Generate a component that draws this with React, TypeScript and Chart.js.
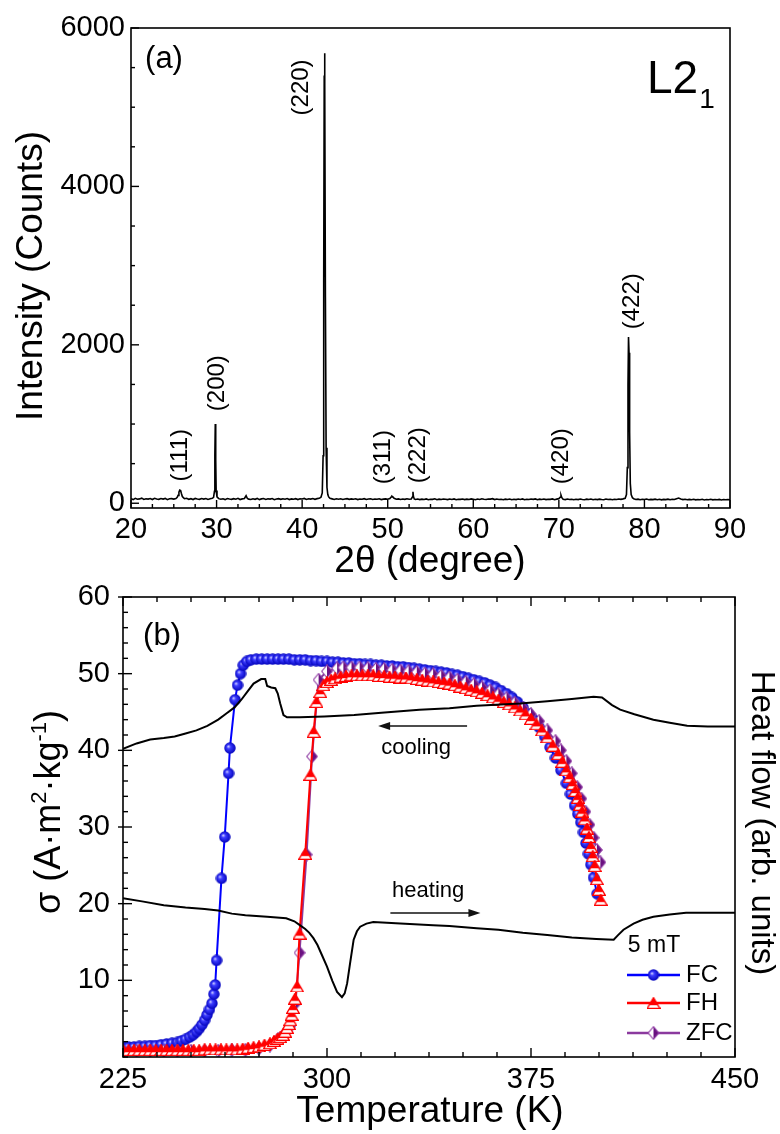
import React, { useEffect, useRef } from 'react';
import { Chart, registerables } from 'chart.js';
Chart.register(...registerables);

const FONT = '"Liberation Sans", Arial, Helvetica, sans-serif';

// ---------------- Panel (a): XRD ----------------
const xrdTheta = [
  20, 20.25, 20.5, 20.75, 21, 21.25, 21.5, 21.75, 22, 22.25, 22.5, 22.75,
  23, 23.25, 23.5, 23.75, 24, 24.25, 24.5, 24.75, 25, 25.25,
  25.4, 25.5, 25.6, 25.7, 25.8, 25.9, 26, 26.15, 26.25, 26.5, 26.75,
  27, 27.25, 27.5, 27.75, 28, 28.25, 28.5, 28.75, 29, 29.25, 29.5,
  29.65, 29.75, 29.8, 29.85, 29.9, 29.95, 30.05, 30.25, 30.5, 30.75,
  31, 31.25, 31.5, 31.75, 32, 32.25, 32.5, 32.75, 33, 33.25, 33.45, 33.6, 33.75,
  34, 34.25, 34.5, 34.75, 35, 35.25, 35.5, 35.75, 36, 36.25, 36.5, 36.75,
  37, 37.25, 37.5, 37.75, 38, 38.25, 38.5, 38.75, 39, 39.25, 39.5, 39.75,
  40, 40.25, 40.5, 40.75, 41, 41.25, 41.5, 41.75, 42, 42.2, 42.35,
  42.45, 42.52, 42.58, 42.62, 42.66, 42.72, 42.8, 42.9, 43, 43.1, 43.25, 43.5, 43.75,
  44, 44.25, 44.5, 44.75, 45, 45.25, 45.5, 45.75, 46, 46.25, 46.5, 46.75,
  47, 47.25, 47.5, 47.75, 48, 48.25, 48.5, 48.75, 49, 49.25, 49.5, 49.75,
  50, 50.25, 50.4, 50.5, 50.6, 50.75, 51, 51.25, 51.5, 51.75,
  52, 52.25, 52.5, 52.75, 52.9, 52.95, 53, 53.1, 53.25, 53.5, 53.75,
  54, 54.25, 54.5, 54.75, 55, 55.25, 55.5, 55.75, 56, 56.25, 56.5, 56.75,
  57, 57.25, 57.5, 57.75, 58, 58.25, 58.5, 58.75, 59, 59.25, 59.5, 59.75,
  60, 60.25, 60.5, 60.75, 61, 61.25, 61.5, 61.75, 62, 62.25, 62.5, 62.75,
  63, 63.25, 63.5, 63.75, 64, 64.25, 64.5, 64.75, 65, 65.25, 65.5, 65.75,
  66, 66.25, 66.5, 66.75, 67, 67.25, 67.5, 67.75, 68, 68.25, 68.5, 68.75,
  69, 69.25, 69.5, 69.75, 70, 70.15, 70.25, 70.35, 70.5, 70.75,
  71, 71.25, 71.5, 71.75, 72, 72.25, 72.5, 72.75, 73, 73.25, 73.5, 73.75,
  74, 74.25, 74.5, 74.75, 75, 75.25, 75.5, 75.75, 76, 76.25, 76.5, 76.75,
  77, 77.25, 77.5, 77.75, 77.9, 78, 78.08, 78.14, 78.2, 78.27, 78.35, 78.45, 78.6, 78.75,
  79, 79.25, 79.5, 79.75, 80, 80.25, 80.5, 80.75, 81, 81.25, 81.5, 81.75,
  82, 82.25, 82.5, 82.75, 83, 83.25, 83.5, 83.75, 84, 84.25, 84.5, 84.75,
  85, 85.25, 85.5, 85.75, 86, 86.25, 86.5, 86.75, 87, 87.25, 87.5, 87.75,
  88, 88.25, 88.5, 88.75, 89, 89.25, 89.5, 89.75, 90,
];
const xrdCounts = [
  58, 46, 62, 50, 55, 64, 48, 57, 52, 60, 47, 63,
  54, 49, 59, 53, 61, 45, 56, 58, 52, 60,
  75, 100, 140, 165, 160, 120, 85, 68, 57, 62, 50,
  58, 47, 61, 54, 49, 59, 52, 60, 48, 56, 62,
  75, 150, 600, 1000, 550, 160, 80, 58, 50, 57,
  46, 60, 53, 49, 58, 51, 62, 47, 55, 60, 95, 60, 52,
  48, 57, 50, 61, 46, 55, 59, 48, 56, 52, 60, 45,
  54, 58, 49, 57, 51, 60, 47, 55, 50, 58, 46, 56,
  53, 61, 48, 57, 52, 59, 50, 58, 62, 75, 130,
  600, 2800, 5400, 5680, 5300, 2600, 700, 200, 110, 80, 62, 55, 48,
  57, 50, 56, 47, 54, 58, 49, 55, 51, 57, 46, 54,
  50, 58, 47, 53, 56, 48, 54, 50, 57, 46, 52, 55,
  50, 60, 78, 88, 80, 62, 50, 55, 47, 53,
  49, 56, 50, 54, 80, 145, 90, 55, 48, 53, 46,
  52, 48, 55, 45, 51, 49, 56, 44, 52, 47, 54, 50,
  46, 53, 48, 55, 44, 51, 49, 54, 46, 52, 48, 55,
  50, 45, 53, 48, 56, 50, 47, 54, 52, 58, 46, 53,
  48, 51, 45, 52, 47, 54, 44, 50, 46, 53, 48, 55,
  45, 51, 47, 53, 49, 55, 44, 52, 48, 54, 46, 51,
  49, 55, 45, 52, 58, 75, 102, 70, 50, 46,
  53, 47, 51, 44, 50, 46, 53, 48, 45, 52, 47, 54,
  44, 50, 46, 52, 48, 45, 53, 47, 51, 44, 50, 47,
  53, 49, 55, 62, 110, 450, 1500, 2100, 1900, 900, 250, 110, 70, 55,
  48, 52, 45, 50, 47, 53, 44, 49, 46, 52, 45, 50,
  43, 49, 46, 52, 44, 50, 47, 58, 66, 55, 46, 51,
  44, 49, 45, 51, 43, 48, 45, 50, 42, 48, 44, 50,
  43, 47, 44, 49, 42, 47, 44, 48, 43,
];
const xrdThetaTicks = [20, 30, 40, 50, 60, 70, 80, 90];
const xrdCountTicks = [0, 2000, 4000, 6000];
const peakLabels = ['(111)', '(200)', '(220)', '(311)', '(222)', '(420)', '(422)'];
const peakLabelTheta = [25.72, 30.1, 39.9, 49.52, 53.6, 70.29, 78.57];
const peakLabelCount = [606, 1516, 5250, 581, 606, 593, 2550];

// ---------------- Panel (b): M(T) + DSC ----------------
const fcTemp = [
  225, 227, 229, 231, 233, 235, 237, 239, 241, 243, 245, 246.5, 248, 249.5, 250.8, 252, 253, 254, 255, 255.9,
  256.8, 257.7, 258.4, 258.9, 259.4, 261.2, 262.4, 263.8, 264.3, 266.2, 267.1, 268.2, 269.2, 270.5, 272, 274,
  276, 278, 280, 282, 284, 286, 288, 290, 292, 294, 296, 298, 300, 302, 304, 306, 308, 310, 312, 314, 316, 318,
  320, 322, 324, 326, 328, 330, 332, 334, 336, 338, 340, 342, 344, 346, 348, 350, 352, 354, 356, 358, 360, 362,
  364, 366, 368, 370, 372, 374, 376, 378, 380, 382, 384, 386, 388, 389.5, 391, 392.2, 393.3, 394.3, 395.2, 396.1,
  397, 398, 399.3,
];
const fcSigma = [
  1.3, 1.3, 1.3, 1.4, 1.4, 1.5, 1.5, 1.6, 1.7, 1.8, 1.9, 2.1, 2.3, 2.6, 2.9, 3.3, 3.7, 4.2, 4.8, 5.5,
  6.2, 7.0, 8.2, 9.4, 12.6, 23.3, 28.7, 37.0, 40.3, 46.6, 48.5, 50.0, 51.1, 51.6, 51.8, 51.9,
  51.9, 51.9, 51.9, 51.9, 51.9, 51.9, 51.8, 51.8, 51.8, 51.7, 51.7, 51.6, 51.6, 51.5, 51.5, 51.4, 51.4, 51.3, 51.3, 51.2, 51.2, 51.1,
  51.1, 51.0, 51.0, 50.9, 50.9, 50.8, 50.7, 50.6, 50.5, 50.4, 50.3, 50.2, 50.1, 49.9, 49.8, 49.6, 49.4, 49.2, 49.0, 48.8, 48.5, 48.2,
  47.8, 47.4, 46.9, 46.3, 45.6, 44.8, 44.0, 43.0, 41.8, 40.4, 39.0, 37.4, 35.7, 34.3, 32.8, 31.7, 30.6, 29.3, 27.9, 26.5,
  25.1, 23.4, 21.3,
];
const fhTemp = [
  225, 227, 229, 231, 233, 235, 237, 239, 241, 243, 245, 247, 249, 251, 253, 255, 257, 259, 261, 263,
  265, 267, 269, 271, 273, 275, 277, 279, 280.5, 281.8, 282.8, 283.8, 284.6, 285.3, 286, 286.5, 287, 287.5, 288.2, 289,
  289.9, 292, 293.9, 295.1, 296.1, 297.5, 298.7, 300, 301.5, 303, 305, 307, 309, 311, 313, 315, 317, 319, 321, 323,
  325, 327, 329, 331, 333, 335, 337, 339, 341, 343, 345, 347, 349, 351, 353, 355, 357, 359, 361, 363,
  365, 367, 369, 371, 373, 375, 377, 379, 381, 383, 385, 386.5, 388, 389.2, 390.3, 391.3, 392.2, 393, 393.8, 394.7,
  395.6, 396.3, 397, 397.7, 398.4, 399.2, 400, 400.6,
];
const fhSigma = [
  0.9, 0.9, 0.9, 0.9, 0.9, 0.9, 0.9, 0.9, 0.9, 0.9, 0.9, 0.9, 0.9, 0.9, 0.9, 1.0, 1.0, 1.0, 1.0, 1.0,
  1.0, 1.0, 1.1, 1.2, 1.3, 1.4, 1.6, 1.8, 2.1, 2.4, 2.6, 2.9, 3.3, 3.8, 4.3, 4.8, 5.5, 6.4, 7.6, 9.2,
  16.1, 26.5, 36.8, 42.4, 46.3, 47.6, 48.5, 48.9, 49.2, 49.4, 49.6, 49.7, 49.8, 49.8, 49.8, 49.8, 49.8, 49.7, 49.7, 49.6,
  49.6, 49.5, 49.5, 49.4, 49.3, 49.2, 49.1, 49.0, 48.9, 48.8, 48.7, 48.5, 48.3, 48.1, 47.9, 47.7, 47.5, 47.2, 46.9, 46.6,
  46.3, 46.0, 45.6, 45.2, 44.7, 44.1, 43.4, 42.6, 41.7, 40.6, 39.5, 38.5, 37.4, 36.5, 35.6, 34.7, 33.8, 32.9, 32.0, 31.0,
  29.8, 28.7, 27.4, 26.2, 24.9, 23.2, 21.8, 20.5,
];
const zfcTemp = [
  225, 230, 235, 240, 245, 250, 255, 260, 265, 270, 275, 279, 282, 284.5, 286.5, 288.4, 289.9, 292.5, 294.5, 296.9,
  300, 303.7, 306, 309, 312, 315, 318, 321, 324, 327, 330, 333, 336, 339, 342, 345, 348, 351, 354, 357,
  360, 363, 366, 369, 372, 375, 378, 381, 384, 386, 388, 390, 392, 393.5, 395, 396.5, 398, 399.2, 400.5,
];
const zfcSigma = [
  0.8, 0.8, 0.8, 0.8, 0.8, 0.8, 0.8, 0.8, 0.9, 0.9, 1.1, 1.5, 2.3, 3.1, 4.0, 7.0, 13.6, 26.4, 39.2, 49.2,
  50.3, 50.7, 50.8, 50.8, 50.8, 50.7, 50.6, 50.6, 50.5, 50.4, 50.3, 50.2, 50.0, 49.9, 49.7, 49.5, 49.2, 48.9, 48.6, 48.2,
  47.8, 47.3, 46.8, 46.2, 45.5, 44.7, 43.8, 42.6, 41.2, 40.0, 38.6, 37.0, 35.2, 33.7, 32.0, 30.3, 28.6, 27.0, 25.4,
];
const dscCoolTemp = [
  225, 230, 235, 240, 244, 248, 252, 256, 260, 263, 266, 268.5, 270.6, 273, 275.8, 277.3, 278, 279.5, 281, 281.9,
  282.8, 284, 285.3, 290, 299, 310, 320, 334, 345, 355, 371, 381, 390, 398, 401.1, 404.8, 407.8, 413, 420, 426,
  432.4, 440, 450,
];
const dscCoolFlow = [
  40.2, 40.9, 41.4, 41.6, 41.8, 42.2, 42.6, 43.2, 44.0, 44.8, 45.6, 46.6, 47.6, 48.7, 49.3, 49.3, 48.4, 48.2, 48.1, 47.4,
  46.1, 44.6, 44.3, 44.3, 44.4, 44.6, 44.9, 45.3, 45.5, 45.8, 46.1, 46.4, 46.7, 47.0, 46.9, 45.9, 45.3, 44.7, 44.0, 43.6,
  43.2, 43.1, 43.1,
];
const dscHeatTemp = [
  225, 232, 240, 248, 255, 260, 265, 270, 278, 285, 288, 290, 292, 293.5, 295, 296.5, 298, 300, 302, 303.7,
  305.5, 306.5, 307.4, 308.6, 309.8, 311, 312.2, 314.5, 317, 322, 327, 339, 345, 355, 363, 372, 381, 390, 399, 405.4,
  407, 409, 412.7, 416, 420, 426, 432, 440, 450,
];
const dscHeatFlow = [
  20.7, 20.3, 19.8, 19.5, 19.3, 19.1, 18.7, 18.5, 18.3, 18.1, 17.7, 17.2, 16.7, 16.2, 15.5, 14.6, 13.4, 11.8, 9.9, 8.5,
  7.8, 8.3, 9.6, 12.5, 15.3, 16.4, 17.0, 17.4, 17.6, 17.5, 17.4, 17.2, 17.1, 16.8, 16.6, 16.2, 15.9, 15.6, 15.4, 15.3,
  15.9, 16.6, 17.4, 17.9, 18.3, 18.6, 18.8, 18.8, 18.8,
];
const tempTicks = [225, 300, 375, 450];
const sigmaTicks = [10, 20, 30, 40, 50, 60];
const legendLabels = ['FC', 'FH', 'ZFC'];

// ---------------- helpers ----------------
const pts = (xs: number[], ys: number[]) => xs.map((x, i) => ({ x, y: ys[i] }));

function makeCircle(): HTMLCanvasElement {
  const c = document.createElement('canvas');
  c.width = 12; c.height = 12;
  const g = c.getContext('2d')!;
  const grad = g.createRadialGradient(4.3, 4.3, 0.3, 6, 6, 6);
  grad.addColorStop(0, '#c8c8ff');
  grad.addColorStop(0.3, '#3c3cff');
  grad.addColorStop(1, '#0000b8');
  g.fillStyle = grad;
  g.beginPath(); g.arc(6, 6, 5.7, 0, Math.PI * 2); g.fill();
  return c;
}
function makeTriangle(): HTMLCanvasElement {
  const c = document.createElement('canvas');
  c.width = 14; c.height = 12;
  const g = c.getContext('2d')!;
  const path = () => { g.beginPath(); g.moveTo(7, 0.7); g.lineTo(13.3, 11.3); g.lineTo(0.7, 11.3); g.closePath(); };
  path(); g.fillStyle = '#fff'; g.fill();
  g.save(); path(); g.clip(); g.fillStyle = '#ff0000'; g.fillRect(0, 0, 14, 8.2); g.restore();
  path(); g.strokeStyle = '#ff0000'; g.lineWidth = 1.3; g.stroke();
  return c;
}
function makeDiamond(): HTMLCanvasElement {
  const c = document.createElement('canvas');
  c.width = 12; c.height = 14;
  const g = c.getContext('2d')!;
  const path = () => { g.beginPath(); g.moveTo(6, 0.7); g.lineTo(11.3, 7); g.lineTo(6, 13.3); g.lineTo(0.7, 7); g.closePath(); };
  path(); g.fillStyle = '#fff'; g.fill();
  g.save(); path(); g.clip(); g.fillStyle = '#6a1180'; g.fillRect(6, 0, 6, 14); g.restore();
  path(); g.strokeStyle = '#8e3aa3'; g.lineWidth = 1.1; g.stroke();
  return c;
}

type Seg = { t: string; size: number; dy: number };
function rich(ctx: CanvasRenderingContext2D, segs: Seg[], x: number, y: number, rot: number, mainSize: number) {
  ctx.save();
  ctx.translate(x, y);
  ctx.rotate(rot);
  ctx.textAlign = 'left';
  ctx.textBaseline = 'alphabetic';
  ctx.fillStyle = '#000';
  let w = 0;
  segs.forEach((s) => { ctx.font = `${s.size}px ${FONT}`; w += ctx.measureText(s.t).width; });
  let cx = -w / 2;
  const base = mainSize * 0.36;
  segs.forEach((s) => {
    ctx.font = `${s.size}px ${FONT}`;
    ctx.fillText(s.t, cx, base + s.dy);
    cx += ctx.measureText(s.t).width;
  });
  ctx.restore();
}
function txt(ctx: CanvasRenderingContext2D, s: string, x: number, y: number, size: number, rot = 0, align: CanvasTextAlign = 'center') {
  ctx.save();
  ctx.translate(x, y);
  ctx.rotate(rot);
  ctx.font = `${size}px ${FONT}`;
  ctx.textAlign = align;
  ctx.textBaseline = 'middle';
  ctx.fillStyle = '#000';
  ctx.fillText(s, 0, 0);
  ctx.restore();
}

type TickSpec = { axis: string; side: 'left' | 'top' | 'bottom'; major: number[]; minorStep: number; majorIn: number; majorOut: number; minorIn: number };
function framePlugin(specs: TickSpec[], lw: number) {
  return {
    id: 'frameTicks',
    afterDatasetsDraw(chart: any) {
      const { ctx } = chart;
      const { left, right, top, bottom } = chart.chartArea;
      ctx.save();
      ctx.strokeStyle = '#000';
      ctx.lineWidth = lw;
      ctx.strokeRect(left, top, right - left, bottom - top);
      ctx.lineWidth = 1.4;
      specs.forEach((s) => {
        const sc = chart.scales[s.axis];
        const drawTick = (v: number, inL: number, outL: number) => {
          const p = sc.getPixelForValue(v);
          ctx.beginPath();
          if (s.side === 'bottom') { ctx.moveTo(p, bottom + outL); ctx.lineTo(p, bottom - inL); }
          else if (s.side === 'top') { ctx.moveTo(p, top - outL); ctx.lineTo(p, top + inL); }
          else { ctx.moveTo(left - outL, p); ctx.lineTo(left + inL, p); }
          ctx.stroke();
        };
        const start = Math.ceil(sc.min / s.minorStep - 1e-9) * s.minorStep;
        for (let v = start; v <= sc.max + 1e-9; v += s.minorStep) {
          if (!s.major.some((m) => Math.abs(m - v) < 1e-6)) drawTick(v, s.minorIn, 0);
        }
        s.major.forEach((v) => drawTick(v, s.majorIn, s.majorOut));
      });
      ctx.restore();
    },
  };
}

const fitW = (w: number) => (s: any) => { s.width = w; s.paddingTop = 0; s.paddingBottom = 0; s.paddingLeft = 0; s.paddingRight = 0; };
const fitH = (h: number) => (s: any) => { s.height = h; s.paddingTop = 0; s.paddingBottom = 0; s.paddingLeft = 0; s.paddingRight = 0; };
const setTicks = (vals: number[]) => (s: any) => { s.ticks = vals.map((v) => ({ value: v })); };
const tickFont = { family: FONT, size: 29, lineHeight: 1.2 };
const plain = (v: any) => String(v);

export default function App() {
  const refA = useRef<HTMLCanvasElement>(null);
  const refB = useRef<HTMLCanvasElement>(null);

  useEffect(() => {
    const circle = makeCircle();
    const tri = makeTriangle();
    const dia = makeDiamond();

    const annA = {
      id: 'annA',
      afterDraw(chart: any) {
        const { ctx } = chart;
        const xs = chart.scales.x, ys = chart.scales.y;
        peakLabels.forEach((l, i) => {
          txt(ctx, l, xs.getPixelForValue(peakLabelTheta[i]), ys.getPixelForValue(peakLabelCount[i]), 24, -Math.PI / 2);
        });
        txt(ctx, '(a)', 164, 59, 31);
        ctx.save();
        ctx.font = `46px ${FONT}`;
        ctx.textAlign = 'left'; ctx.textBaseline = 'alphabetic'; ctx.fillStyle = '#000';
        ctx.fillText('L2', 647, 93);
        const w = ctx.measureText('L2').width;
        ctx.font = `28px ${FONT}`;
        ctx.fillText('1', 647 + w + 1, 108);
        ctx.restore();
        txt(ctx, 'Intensity (Counts)', 32, 276, 37, -Math.PI / 2);
        txt(ctx, '2\u03b8 (degree)', 430, 562, 37);
      },
    };

    const chartA = new Chart(refA.current!, {
      type: 'scatter',
      data: {
        datasets: [{
          data: pts(xrdTheta, xrdCounts),
          showLine: true,
          borderColor: '#000',
          borderWidth: 1.6,
          pointRadius: 0,
          tension: 0,
        }],
      },
      options: {
        animation: false,
        responsive: false,
        devicePixelRatio: 1,
        events: [],
        layout: { padding: { left: 0, top: 28, right: 50, bottom: 0 } },
        plugins: { legend: { display: false }, tooltip: { enabled: false } },
        scales: {
          x: {
            type: 'linear', min: 20, max: 90,
            afterBuildTicks: setTicks(xrdThetaTicks), afterFit: fitH(72),
            grid: { display: false, drawTicks: false }, border: { display: false },
            ticks: { font: tickFont, color: '#000', padding: 5, maxRotation: 0, autoSkip: false, callback: plain },
          },
          y: {
            type: 'linear', min: -60, max: 6000,
            afterBuildTicks: setTicks(xrdCountTicks), afterFit: fitW(131),
            grid: { display: false, drawTicks: false }, border: { display: false },
            ticks: { font: tickFont, color: '#000', padding: 6, callback: plain },
          },
        },
      },
      plugins: [
        framePlugin([
          { axis: 'x', side: 'bottom', major: xrdThetaTicks, minorStep: 2.5, majorIn: 8, majorOut: 0, minorIn: 4 },
          { axis: 'y', side: 'left', major: xrdCountTicks, minorStep: 500, majorIn: 8, majorOut: 0, minorIn: 4 },
        ], 1.6),
        annA,
      ],
    } as any);

    const annB = {
      id: 'annB',
      afterDraw(chart: any) {
        const { ctx } = chart;
        const xs = chart.scales.x, ys = chart.scales.y;
        txt(ctx, '(b)', 162, 56, 31);
        txt(ctx, 'cooling', xs.getPixelForValue(332.8), ys.getPixelForValue(40.3), 22);
        txt(ctx, 'heating', xs.getPixelForValue(337.2), ys.getPixelForValue(21.65), 22);
        const arrow = (t0: number, t1: number, s: number) => {
          const x0 = xs.getPixelForValue(t0), x1 = xs.getPixelForValue(t1), y = ys.getPixelForValue(s);
          const dir = Math.sign(x1 - x0);
          ctx.save();
          ctx.strokeStyle = '#111'; ctx.fillStyle = '#111'; ctx.lineWidth = 1.4;
          ctx.beginPath(); ctx.moveTo(x0, y); ctx.lineTo(x1 - dir * 8, y); ctx.stroke();
          ctx.beginPath(); ctx.moveTo(x1, y); ctx.lineTo(x1 - dir * 12, y - 4); ctx.lineTo(x1 - dir * 12, y + 4); ctx.closePath(); ctx.fill();
          ctx.restore();
        };
        arrow(351.5, 318.8, 43.17);
        arrow(323.3, 356.4, 18.78);
        txt(ctx, '5 mT', 654, 366, 23);
        const cols = ['#0000ff', '#ff0000', '#8b3a9e'];
        const imgs = [circle, tri, dia];
        const ly = [395, 423, 453];
        legendLabels.forEach((l, i) => {
          ctx.save();
          ctx.strokeStyle = cols[i]; ctx.lineWidth = 2.5;
          ctx.beginPath(); ctx.moveTo(627, ly[i]); ctx.lineTo(680, ly[i]); ctx.stroke();
          ctx.restore();
          const im = imgs[i];
          ctx.drawImage(im, 653.5 - im.width / 2, ly[i] - im.height / 2);
          txt(ctx, l, 686, ly[i], 24, 0, 'left');
        });
        txt(ctx, 'Temperature (K)', 430, 532, 37);
        txt(ctx, 'Heat flow (arb. units)', 761, 243, 33, Math.PI / 2);
        rich(ctx, [
          { t: '\u03c3 (A\u00b7m', size: 36, dy: 0 },
          { t: '2', size: 22, dy: -14 },
          { t: '\u00b7kg', size: 36, dy: 0 },
          { t: '-1', size: 22, dy: -14 },
          { t: ')', size: 36, dy: 0 },
        ], 47, 232, -Math.PI / 2, 36);
      },
    };

    const chartB = new Chart(refB.current!, {
      type: 'scatter',
      data: {
        datasets: [
          { data: pts(dscCoolTemp, dscCoolFlow), yAxisID: 'y2', showLine: true, borderColor: '#000', borderWidth: 2, pointRadius: 0 },
          { data: pts(dscHeatTemp, dscHeatFlow), yAxisID: 'y2', showLine: true, borderColor: '#000', borderWidth: 2, pointRadius: 0 },
          { data: pts(fhTemp, fhSigma), yAxisID: 'y', showLine: true, borderColor: '#ff0000', borderWidth: 2, pointStyle: tri, pointRadius: 5 },
          { data: pts(zfcTemp, zfcSigma), yAxisID: 'y', showLine: true, borderColor: '#8b3a9e', borderWidth: 2, pointStyle: dia, pointRadius: 5 },
          { data: pts(fcTemp, fcSigma), yAxisID: 'y', showLine: true, borderColor: '#0000ff', borderWidth: 2, pointStyle: circle, pointRadius: 5 },
        ],
      },
      options: {
        animation: false,
        responsive: false,
        devicePixelRatio: 1,
        events: [],
        layout: { padding: { left: 0, top: 17, right: 0, bottom: 0 } },
        plugins: { legend: { display: false }, tooltip: { enabled: false } },
        scales: {
          x: {
            type: 'linear', min: 225, max: 450,
            afterBuildTicks: setTicks(tempTicks), afterFit: fitH(77),
            grid: { display: false, drawTicks: false }, border: { display: false },
            ticks: { font: tickFont, color: '#000', padding: 6, maxRotation: 0, autoSkip: false, callback: plain },
          },
          y: {
            type: 'linear', position: 'left', min: 0, max: 60,
            afterBuildTicks: setTicks(sigmaTicks), afterFit: fitW(123),
            grid: { display: false, drawTicks: false }, border: { display: false },
            ticks: { font: tickFont, color: '#000', padding: 13, callback: plain },
          },
          y2: {
            type: 'linear', position: 'right', min: 0, max: 60,
            afterFit: fitW(45),
            grid: { display: false, drawTicks: false }, border: { display: false },
            ticks: { display: false },
          },
        },
      },
      plugins: [
        framePlugin([
          { axis: 'x', side: 'bottom', major: tempTicks, minorStep: 12.5, majorIn: 9, majorOut: 0, minorIn: 5 },
          { axis: 'x', side: 'top', major: tempTicks, minorStep: 12.5, majorIn: 9, majorOut: 0, minorIn: 5 },
          { axis: 'y', side: 'left', major: sigmaTicks, minorStep: 2, majorIn: 9, majorOut: 5, minorIn: 5 },
        ], 1.6),
        annB,
      ],
    } as any);

    return () => { chartA.destroy(); chartB.destroy(); };
  }, []);

  return (
    <div style={{ position: 'absolute', left: 0, top: 0, width: 780, height: 1134, background: '#fff' }}>
      <canvas ref={refA} width={780} height={580} style={{ position: 'absolute', left: 0, top: 0, width: 780, height: 580 }} />
      <canvas ref={refB} width={780} height={554} style={{ position: 'absolute', left: 0, top: 580, width: 780, height: 554 }} />
    </div>
  );
}
